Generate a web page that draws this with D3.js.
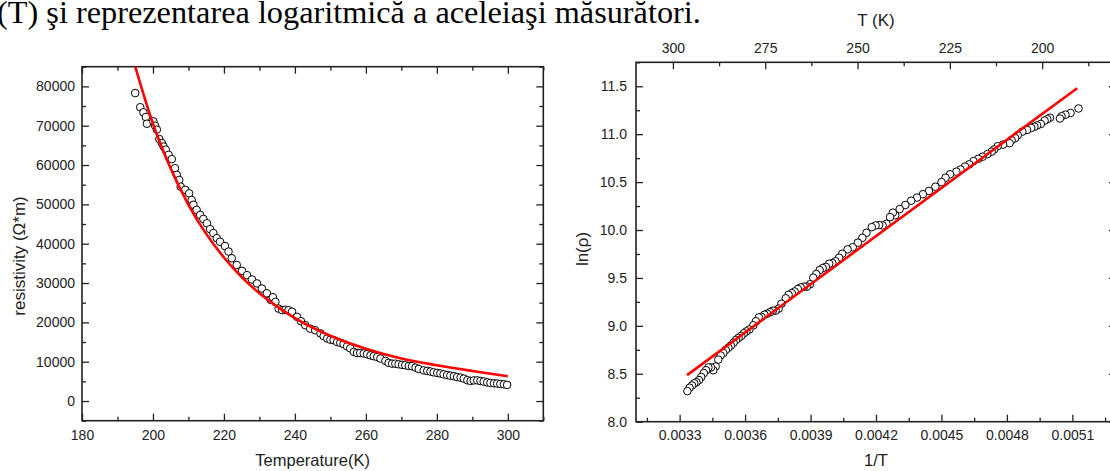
<!DOCTYPE html>
<html>
<head>
<meta charset="utf-8">
<script src="https://cdn.jsdelivr.net/npm/d3@7"></script>
<style>
  body { margin: 0; background: #fff; }
  .tick text { font-family: "Liberation Sans", Arial, sans-serif; font-size: 14px; fill: #222; }
  .tick line { stroke: #222; stroke-width: 1.3px; }
  .label { font-family: "Liberation Sans", Arial, sans-serif; font-size: 16.5px; fill: #222; }
  .caption { font-family: "Liberation Serif", "Times New Roman", serif; font-size: 32.3px; fill: #000; }
</style>
</head>
<body>
<div id="container"></div>
<script>

var tempK = [195.0, 196.4, 197.3, 198.0, 198.3, 200.1, 200.6, 201.1, 201.8, 202.5,
             203.0, 203.6, 204.4, 205.3, 206.2, 206.7, 207.4, 207.8, 209.1, 210.2,
             210.9, 211.4, 212.3, 213.3, 214.2, 215.2, 216.1, 217.0, 218.0, 218.9,
             220.3, 221.3, 222.2, 223.6, 225.1, 226.5, 227.9, 229.3, 230.7, 232.1,
             233.2, 233.8, 234.5, 235.4, 236.4, 237.3, 238.2, 239.2, 240.6, 241.7,
             242.9, 244.3, 245.7, 247.2, 248.1, 249.1, 250.0, 250.9, 251.9, 252.8,
             253.7, 254.7, 255.6, 256.6, 257.5, 258.4, 259.4, 260.3, 261.3, 262.2,
             263.2, 264.1, 265.5, 266.4, 267.4, 268.3, 269.2, 270.2, 271.1, 272.1,
             273.0, 274.0, 274.9, 276.3, 277.3, 278.2, 279.1, 280.1, 281.0, 281.9,
             282.9, 283.8, 284.8, 285.7, 286.7, 287.6, 288.6, 289.5, 290.4, 291.4,
             292.3, 293.2, 294.2, 295.1, 296.1, 297.0, 297.9, 298.9, 299.8];
var rho = [78300, 74700, 73400, 72200, 70500, 71100, 70000, 69000, 66600, 65600,
           64700, 63900, 62600, 61500, 59200, 57500, 56200, 54500, 53700, 52800,
           51100, 49900, 48600, 47300, 46300, 45200, 43700, 42700, 41400, 40500,
           39400, 38000, 36300, 34600, 33100, 32000, 30900, 29900, 28600, 27400,
           25700, 26400, 25200, 23500, 23100, 23200, 23100, 22700, 21400, 20300,
           19300, 18400, 18000, 17200, 16500, 15900, 15600, 15500, 15000, 14800,
           14500, 13900, 13400, 12500, 12200, 12200, 12100, 11900, 11600, 11400,
           11200, 10800, 10200, 9700, 9500, 9500, 9350, 9200, 9100, 8900,
           8850, 8500, 8150, 7800, 7650, 7500, 7300, 7150, 7000, 6800,
           6600, 6450, 6300, 6100, 5950, 5700, 5300, 5100, 5250, 5250,
           5100, 4950, 4750, 4600, 4500, 4450, 4350, 4250, 4100];

// Red fit curve on the left
var fitT = [195, 200, 205, 210, 215, 220, 225, 230, 235, 240, 250, 260, 270, 280, 290, 300];
var fitRho = [85000, 70500, 59100, 49900, 42500, 36500, 31500, 27400, 24000, 21100,
              16600, 13300, 10800, 9100, 7650, 6300];

// Red fit line on the right (end points)
var fitInvT = [0.003334, 0.005122];
var fitLn = [8.486, 11.48];

// Tick labels
var leftXTicks = [180, 200, 220, 240, 260, 280, 300];
var leftYTicks = [0, 10000, 20000, 30000, 40000, 50000, 60000, 70000, 80000];
var rightXTicks = [0.0033, 0.0036, 0.0039, 0.0042, 0.0045, 0.0048, 0.0051];
var rightYTicks = [8.0, 8.5, 9.0, 9.5, 10.0, 10.5, 11.0, 11.5];
var topTicks = [300, 275, 250, 225, 200];

var width = 1110,
    height = 471;

var svg = d3.select("#container")
            .append("svg")
              .attr("width", width)
              .attr("height", height);

// Add an axis and drop its domain line (the frame is drawn separately)
function addAxis(axis, tx, ty) {
  svg.append("g")
      .attr("transform", "translate(" + tx + "," + ty + ")")
      .call(axis)
      .call(function(g) { g.select(".domain").remove(); });
}

function frame(x0, y0, x1, y1) {
  svg.append("rect")
      .attr("x", x0)
      .attr("y", y0)
      .attr("width", x1 - x0)
      .attr("height", y1 - y0)
      .attr("fill", "none")
      .attr("stroke", "#222")
      .attr("stroke-width", 1.6);
}

// Caption text above the charts (cut at the left edge, as in the source page)
svg.append("text")
    .attr("class", "caption")
    .attr("x", -3)
    .attr("y", 23)
    .text("(T) şi reprezentarea logaritmică a aceleiaşi măsurători.");

// ---------- LEFT CHART: resistivity vs temperature ----------
var L = {x0: 82, x1: 543.3, y0: 66.7, y1: 420.7};

var x = d3.scaleLinear()
          .domain([180, 310])
          .range([L.x0, L.x1]);
var y = d3.scaleLinear()
          .domain([-5000, 85000])
          .range([L.y1, L.y0]);

addAxis(d3.axisBottom(x).tickValues(leftXTicks).tickSizeInner(-7).tickSizeOuter(0).tickPadding(9), 0, L.y1);
addAxis(d3.axisBottom(x).tickValues(d3.range(190, 311, 20)).tickSizeInner(-4).tickSizeOuter(0).tickFormat(""), 0, L.y1);
addAxis(d3.axisTop(x).tickValues(leftXTicks).tickSizeInner(-7).tickSizeOuter(0).tickFormat(""), 0, L.y0);
addAxis(d3.axisTop(x).tickValues(d3.range(190, 311, 20)).tickSizeInner(-4).tickSizeOuter(0).tickFormat(""), 0, L.y0);
addAxis(d3.axisLeft(y).tickValues(leftYTicks).tickSizeInner(-7).tickSizeOuter(0).tickPadding(7).tickFormat(d3.format("d")), L.x0, 0);
addAxis(d3.axisLeft(y).tickValues(d3.range(-5000, 85001, 10000)).tickSizeInner(-4).tickSizeOuter(0).tickFormat(""), L.x0, 0);
addAxis(d3.axisRight(y).tickValues(leftYTicks).tickSizeInner(-7).tickSizeOuter(0).tickFormat(""), L.x1, 0);
addAxis(d3.axisRight(y).tickValues(d3.range(-5000, 85001, 10000)).tickSizeInner(-4).tickSizeOuter(0).tickFormat(""), L.x1, 0);
frame(L.x0, L.y0, L.x1, L.y1);

svg.append("g")
  .selectAll("circle")
  .data(tempK)
  .enter()
  .append("circle")
    .attr("cx", function(d) { return x(d); })
    .attr("cy", function(d, i) { return y(rho[i]); })
    .attr("r", 3.8)
    .attr("fill", "white")
    .attr("stroke", "black")
    .attr("stroke-width", 1);

var leftLine = d3.line()
                 .x(function(d) { return x(d); })
                 .y(function(d, i) { return y(fitRho[i]); })
                 .curve(d3.curveMonotoneX);
svg.append("path")
    .attr("d", leftLine(fitT))
    .attr("fill", "none")
    .attr("stroke", "#ff0000")
    .attr("stroke-width", 2.6);

svg.append("text")
    .attr("class", "label")
    .attr("x", (L.x0 + L.x1) / 2)
    .attr("y", 466)
    .attr("text-anchor", "middle")
    .text("Temperature(K)");

svg.append("text")
    .attr("class", "label")
    .style("font-size", "17px")
    .attr("transform", "translate(25,256) rotate(-90)")
    .attr("text-anchor", "middle")
    .text("resistivity (Ω*m)");

// ---------- RIGHT CHART: ln(rho) vs 1/T ----------
var R = {x0: 636, x1: 1116, y0: 62.3, y1: 421.7};

var x2 = d3.scaleLinear()
           .domain([0.0031, 0.0053])
           .range([R.x0, R.x1]);
var y2 = d3.scaleLinear()
           .domain([8.0, 11.75])
           .range([R.y1, R.y0]);
var xTop = d3.scaleLinear()
             .domain([310, 180])
             .range([R.x0, R.x1]);

addAxis(d3.axisBottom(x2).tickValues(rightXTicks).tickSizeInner(-7).tickSizeOuter(0).tickPadding(8).tickFormat(d3.format(".4f")), 0, R.y1);
addAxis(d3.axisBottom(x2).tickValues(d3.range(0.00315, 0.0053, 0.0003)).tickSizeInner(-4).tickSizeOuter(0).tickFormat(""), 0, R.y1);
addAxis(d3.axisTop(xTop).tickValues(topTicks).tickSizeInner(-7).tickSizeOuter(0).tickPadding(9).tickFormat(d3.format("d")), 0, R.y0);
addAxis(d3.axisTop(xTop).tickValues([287.5, 262.5, 237.5, 212.5, 187.5]).tickSizeInner(-4).tickSizeOuter(0).tickFormat(""), 0, R.y0);
addAxis(d3.axisLeft(y2).tickValues(rightYTicks).tickSizeInner(-7).tickSizeOuter(0).tickPadding(9).tickFormat(d3.format(".1f")), R.x0, 0);
addAxis(d3.axisLeft(y2).tickValues(d3.range(8.25, 11.8, 0.5)).tickSizeInner(-4).tickSizeOuter(0).tickFormat(""), R.x0, 0);
addAxis(d3.axisRight(y2).tickValues(rightYTicks).tickSizeInner(-7).tickSizeOuter(0).tickFormat(""), R.x1, 0);
addAxis(d3.axisRight(y2).tickValues(d3.range(8.25, 11.8, 0.5)).tickSizeInner(-4).tickSizeOuter(0).tickFormat(""), R.x1, 0);
frame(R.x0, R.y0, R.x1, R.y1);

svg.append("g")
  .selectAll("circle")
  .data(tempK)
  .enter()
  .append("circle")
    .attr("cx", function(d) { return x2(1 / d); })
    .attr("cy", function(d, i) { return y2(Math.log(rho[i])); })
    .attr("r", 3.8)
    .attr("fill", "white")
    .attr("stroke", "black")
    .attr("stroke-width", 1);

svg.append("line")
    .attr("x1", x2(fitInvT[0]))
    .attr("y1", y2(fitLn[0]))
    .attr("x2", x2(fitInvT[1]))
    .attr("y2", y2(fitLn[1]))
    .attr("stroke", "#ff0000")
    .attr("stroke-width", 2.6);

svg.append("text")
    .attr("class", "label")
    .attr("x", (R.x0 + R.x1) / 2)
    .attr("y", 466)
    .attr("text-anchor", "middle")
    .text("1/T");

svg.append("text")
    .attr("class", "label")
    .style("font-size", "17px")
    .attr("x", (R.x0 + R.x1) / 2)
    .attr("y", 25.5)
    .attr("text-anchor", "middle")
    .text("T (K)");

svg.append("text")
    .attr("class", "label")
    .style("font-size", "17px")
    .attr("transform", "translate(588,249) rotate(-90)")
    .attr("text-anchor", "middle")
    .text("ln(ρ)");

</script>
</body>
</html>
